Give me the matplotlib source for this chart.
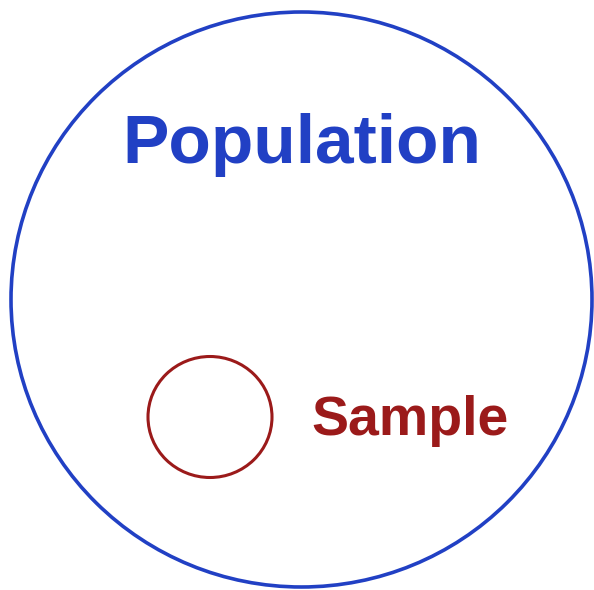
import matplotlib
matplotlib.use('Agg')
import matplotlib.pyplot as plt
from matplotlib.patches import Ellipse

# Circles: (centre x, centre y, width, height) in pixel units
population_circle = (301.5, 299.5, 581, 575)
sample_circle = (210, 417, 124, 121)

# Labels: (text, x, y)
population_label = ("Population", 301.5, 163)
sample_label = ("Sample", 410, 435)

blue = '#2140c4'
red = '#9b1a1a'

fig = plt.figure(figsize=(5.94, 5.90), dpi=100)
ax = fig.add_axes([0, 0, 1, 1])
ax.set_xlim(0, 594)
ax.set_ylim(590, 0)
ax.axis('off')

cx, cy, w, h = population_circle
ax.add_patch(Ellipse((cx, cy), w, h, fill=False, edgecolor=blue, linewidth=2.6))
cx, cy, w, h = sample_circle
ax.add_patch(Ellipse((cx, cy), w, h, fill=False, edgecolor=red, linewidth=2.2))

text, x, y = population_label
ax.text(x, y, text, color=blue, fontsize=50, fontweight='bold',
        family='Liberation Sans', ha='center', va='baseline')
text, x, y = sample_label
ax.text(x, y, text, color=red, fontsize=40, fontweight='bold',
        family='Liberation Sans', ha='center', va='baseline')

fig.savefig('out.png', dpi=100, facecolor='white')
plt.close(fig)
